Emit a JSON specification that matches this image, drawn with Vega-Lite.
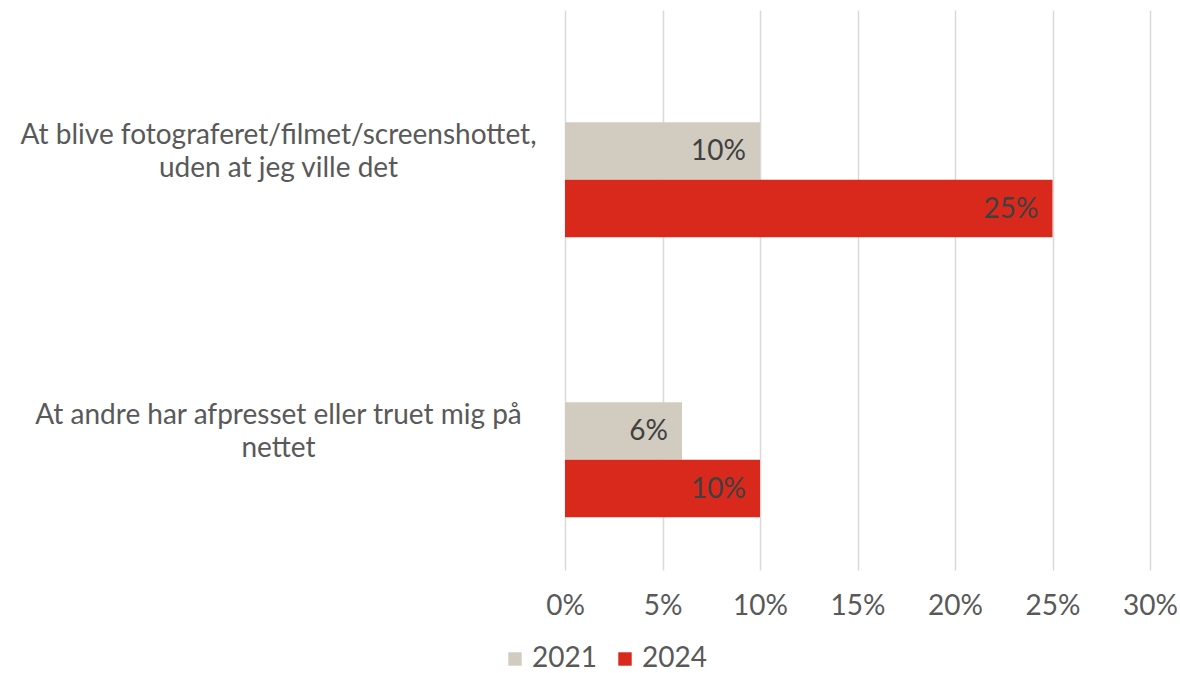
{
  "$schema": "https://vega.github.io/schema/vega-lite/v6.json",
  "autosize": {"type": "none"},
  "width": 585,
  "height": 560,
  "padding": {"left": 565, "top": 10, "right": 30, "bottom": 103},
  "background": "white",
  "config": {
    "font": "Lato",
    "view": {"stroke": null}
  },
  "data": {
    "values": [
      {"kategori": "At blive fotograferet/filmet/screenshottet, uden at jeg ville det", "aar": "2021", "andel": 0.10},
      {"kategori": "At blive fotograferet/filmet/screenshottet, uden at jeg ville det", "aar": "2024", "andel": 0.25},
      {"kategori": "At andre har afpresset eller truet mig på nettet", "aar": "2021", "andel": 0.06},
      {"kategori": "At andre har afpresset eller truet mig på nettet", "aar": "2024", "andel": 0.10}
    ]
  },
  "encoding": {
    "y": {
      "field": "kategori",
      "type": "nominal",
      "sort": null,
      "scale": {"paddingInner": 0, "paddingOuter": 0},
      "axis": {
        "title": null,
        "domain": false,
        "ticks": false,
        "labelAlign": "center",
        "labelBaseline": "middle",
        "labelPadding": 287,
        "labelFontSize": 28,
        "labelColor": "#595959",
        "labelLineHeight": 33,
        "labelOffset": -14,
        "labelLimit": 0,
        "labelExpr": "datum.value == 'At andre har afpresset eller truet mig på nettet' ? ['At andre har afpresset eller truet mig på', 'nettet'] : ['At blive fotograferet/filmet/screenshottet,', 'uden at jeg ville det']"
      }
    },
    "yOffset": {
      "field": "aar",
      "type": "nominal",
      "scale": {"domain": ["tom", "2021", "2024"], "paddingInner": 0, "paddingOuter": 0.935, "align": 0.51}
    },
    "x": {
      "field": "andel",
      "type": "quantitative",
      "scale": {"domain": [0, 0.3], "nice": false},
      "axis": {
        "title": null,
        "format": ".0%",
        "values": [0, 0.05, 0.1, 0.15, 0.2, 0.25, 0.3],
        "domain": false,
        "ticks": false,
        "grid": true,
        "gridColor": "#D9D9D9",
        "gridWidth": 1.5,
        "labelFontSize": 28,
        "labelColor": "#595959",
        "labelPadding": 22,
        "labelFlush": false
      }
    }
  },
  "layer": [
    {
      "mark": {"type": "bar"},
      "encoding": {
        "color": {
          "field": "aar",
          "type": "nominal",
          "scale": {"domain": ["2021", "2024"], "range": ["#D1CCBF", "#D9291C"]},
          "legend": {
            "title": null,
            "orient": "none",
            "direction": "horizontal",
            "legendX": -64,
            "legendY": 635,
            "symbolType": "square",
            "symbolSize": 180,
            "symbolStrokeWidth": 0,
            "labelFontSize": 28,
            "labelColor": "#595959",
            "labelOffset": 3,
            "columnPadding": 14
          }
        }
      }
    },
    {
      "mark": {"type": "text", "align": "right", "baseline": "middle", "dx": -14, "dy": 1, "fontSize": 28, "color": "#404040"},
      "encoding": {
        "text": {"field": "andel", "type": "quantitative", "format": ".0%"}
      }
    }
  ]
}
